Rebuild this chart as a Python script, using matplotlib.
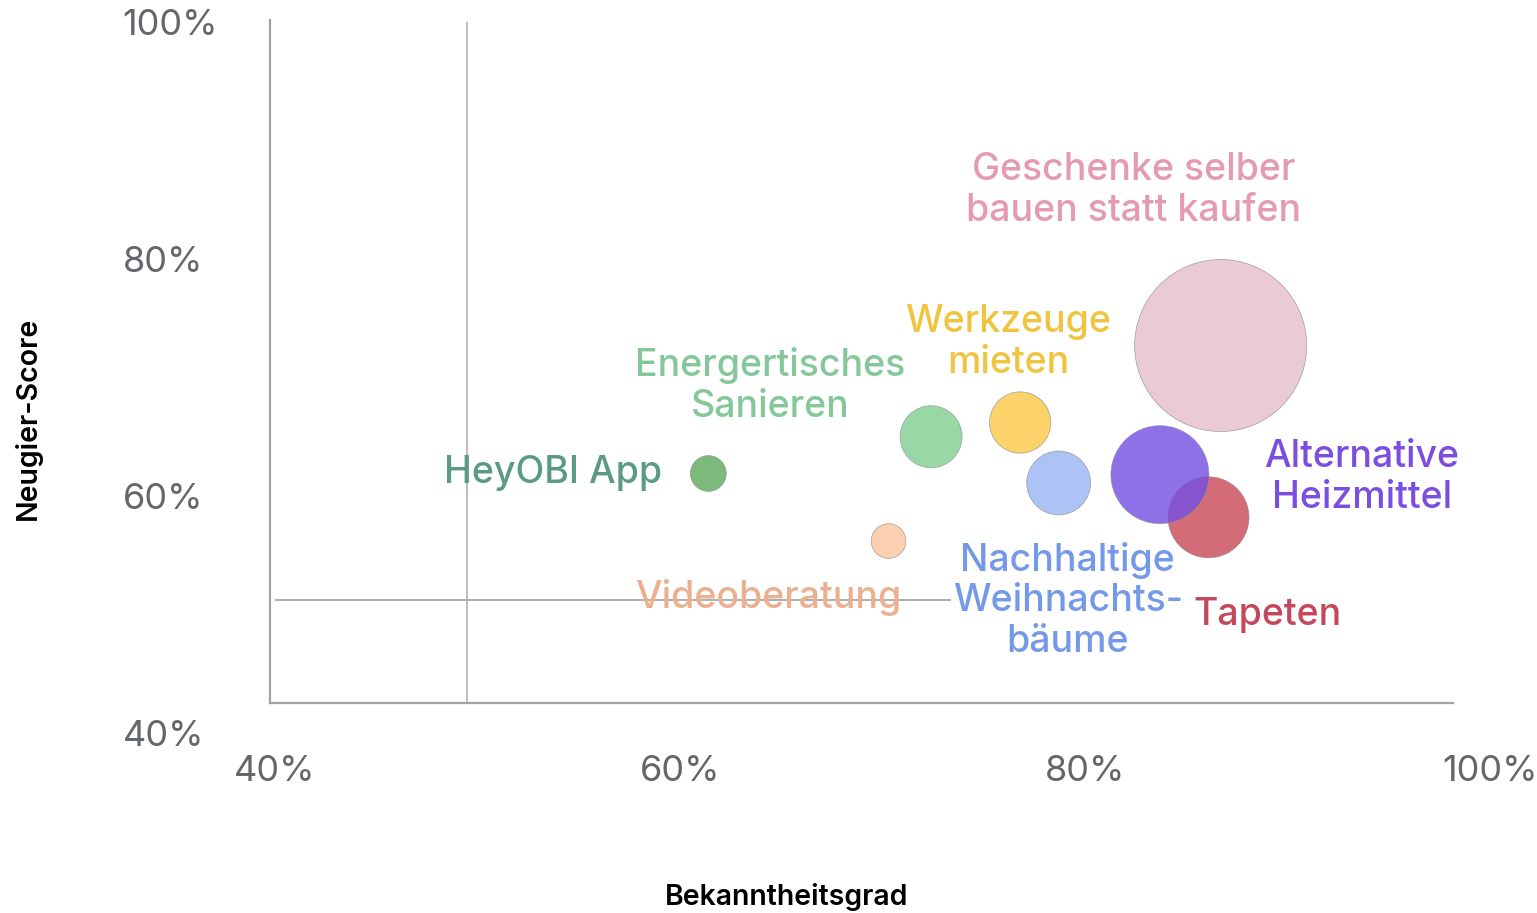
import matplotlib.pyplot as plt

plt.rcParams['font.family'] = ['Inter', 'DejaVu Sans']

# data (percent values)
themen = ["Tapeten", "Alternative\nHeizmittel", "Geschenke selber\nbauen statt kaufen",
          "Werkzeuge\nmieten", "Energertisches\nSanieren", "HeyOBI App",
          "Videoberatung", "Nachhaltige\nWeihnachts-\nbäume"]
bekanntheit = [86.1, 83.7, 86.7, 76.8, 72.4, 61.4, 70.3, 78.7]
neugier = [58.2, 61.8, 72.7, 66.2, 65.0, 61.9, 56.2, 61.1]
volumen = [16.4, 24.0, 74.0, 9.4, 9.6, 3.2, 3.0, 10.2]
mittel_bekanntheit = 49.5
mittel_neugier = 51.2

# styles
bubble_colors = ["#ca4756", "#734ee2", "#e5beca", "#fcc945", "#81ce90",
                 "#5ba95b", "#f9c59c", "#9ab5f3"]
text_colors = ["#c4485c", "#7b4ee0", "#e59ab4", "#f0c43f", "#84c799",
               "#5b9b86", "#ebb08f", "#7399e8"]
# label offsets from bubble centre, in pixels
offsets = [(59, -98), (202, -3), (-87, 155), (-12, 80), (-161, 51),
           (-155, 0), (-120, -56), (9, -118)]

fig = plt.figure(figsize=(15.37, 9.13), dpi=100)
ax = fig.add_axes([275 / 1537, 180 / 913, 1215 / 1537, 711 / 913])
ax.set_xlim(40, 100)
ax.set_ylim(40, 100)

# frame lines like in the original
frame_x = 39.75
frame_y = 42.53
for side in ["top", "right"]:
    ax.spines[side].set_visible(False)
ax.spines["left"].set_position(("data", frame_x))
ax.spines["left"].set_bounds(frame_y, 100.17)
ax.spines["bottom"].set_position(("data", frame_y))
ax.spines["bottom"].set_bounds(frame_x, 98.17)
for side in ["left", "bottom"]:
    ax.spines[side].set_color("#a3a3a3")
    ax.spines[side].set_linewidth(1.6)

# reference lines
ax.vlines(mittel_bekanntheit, frame_y, 100.17, color="#b8b8b8", lw=1.3, zorder=1)
ax.hlines(mittel_neugier, frame_x, 73.4, color="#a8a8a8", lw=1.3, zorder=1)

# bubbles
ax.scatter(bekanntheit, neugier, s=[v * 207.4 for v in volumen],
           c=bubble_colors, alpha=0.8, edgecolors="#8c8c8c",
           linewidths=0.5, zorder=2)

for i, name in enumerate(themen):
    ax.annotate(name, (bekanntheit[i], neugier[i]), xytext=offsets[i],
                textcoords="offset pixels", ha="center", va="center",
                fontsize=27, color=text_colors[i], fontweight="medium",
                linespacing=1.17, zorder=3)

# ticks
ticks = [40, 60, 80, 100]
ax.set_xticks(ticks, labels=[f"{t}%" for t in ticks])
ax.set_yticks(ticks, labels=[f"{t}%" for t in ticks])
ax.tick_params(axis="both", length=0, labelsize=26, labelcolor="#63666a")
ax.tick_params(axis="x", pad=49)
ax.tick_params(axis="y", pad=106)
for lab in ax.get_xticklabels():
    lab.set_va("center")
for lab in ax.get_yticklabels():
    lab.set_ha("left")

# axis titles
ax.set_xlabel("Bekanntheitsgrad", fontsize=20.5, fontweight="semibold", va="center")
ax.xaxis.set_label_coords((787 - 275) / 1215, (733 - 897) / 711)
ax.set_ylabel("Neugier-Score", fontsize=20.5, fontweight="semibold", va="center")
ax.yaxis.set_label_coords((28 - 275) / 1215, (733 - 418) / 711)

fig.savefig("out.png", dpi=100)
